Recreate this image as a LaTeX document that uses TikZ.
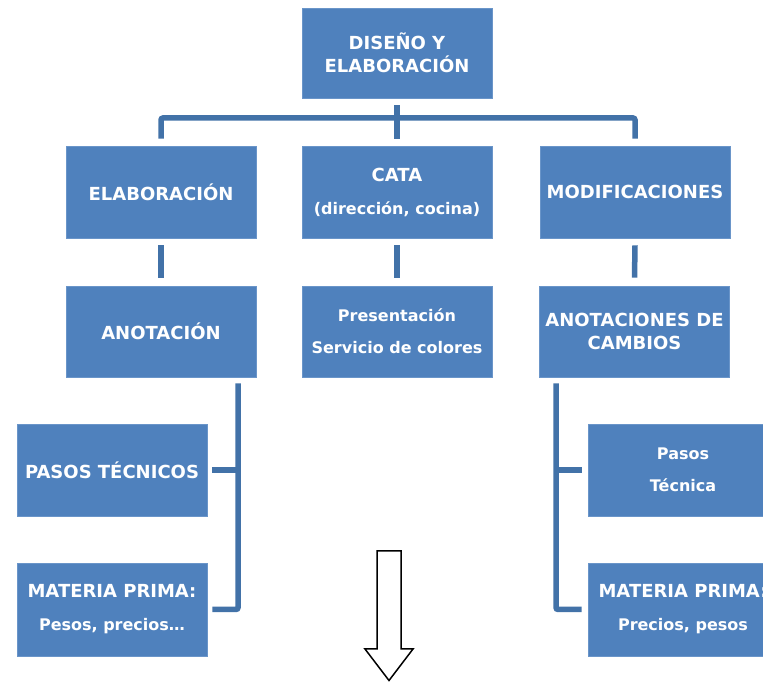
\documentclass[tikz,border=0pt]{standalone}
\usepackage{fontspec}
\setmainfont{DejaVu Sans}
\definecolor{boxblue}{HTML}{4F81BD}
\definecolor{boxedge}{HTML}{6A95C9}
\definecolor{connblue}{HTML}{4272A8}
\newcommand{\capsz}{\fontsize{18}{23}\selectfont}
\newcommand{\lowsz}{\fontsize{16}{23}\selectfont}
\begin{document}
\begin{tikzpicture}[x=1pt,y=1pt,
  box/.style={fill=boxblue, draw=boxedge, line width=0.8pt, minimum width=190pt,
    minimum height=92pt, inner sep=0pt, text=white, align=center,
    font=\capsz\bfseries},
  conn/.style={draw=connblue, line width=5.5pt, rounded corners=2pt}]
\useasboundingbox (0,0) rectangle (763,682);
\clip (0,0) rectangle (763,682);
% nodes
\node[box, minimum height=90pt] (T) at (397,629) {DISEÑO Y\\ELABORACIÓN};
\node[box] (E) at (161,490) {ELABORACIÓN};
\node[box] (C) at (397,490) {CATA\\[10pt]\lowsz(dirección, cocina)};
\node[box] (M) at (635,490) {MODIFICACIONES};
\node[box, minimum height=91pt] (A) at (161,350.5) {ANOTACIÓN};
\node[box, minimum height=91pt, font=\lowsz\bfseries] (P) at (397,350.5) {Presentación\\[9pt]Servicio de colores};
\node[box, minimum height=91pt] (AC) at (634.5,350.5) {ANOTACIONES DE\\CAMBIOS};
\node[box] (L1) at (112,212) {PASOS TÉCNICOS};
\node[box, minimum height=93pt] (L2) at (112,72.5) {MATERIA PRIMA:\\[10pt]\lowsz Pesos, precios…};
\node[box, font=\lowsz\bfseries] (R1) at (683,212) {Pasos\\[9.5pt]Técnica};
\node[box, minimum height=93pt] (R2) at (683,72.5) {MATERIA PRIMA:\\[10pt]\lowsz Precios, pesos};
% connectors
\coordinate (hb) at (397,557);
\draw[conn] ([yshift=-7pt]T.south) -- ([yshift=7pt]C.north);
\draw[conn] ([yshift=7pt]E.north) -- ([yshift=7pt]E.north |- hb) -- ([yshift=7pt]M.north |- hb) -- ([yshift=7pt]M.north);
\draw[conn] ([yshift=-7pt]E.south) -- ([yshift=8pt]A.north);
\draw[conn] ([yshift=-7pt]C.south) -- ([yshift=8pt]P.north);
\draw[conn] ([yshift=-7pt]M.south) -- ([yshift=8pt]AC.north);
\coordinate (lb) at ([xshift=77pt,yshift=-6pt]A.south);
\draw[conn] (lb) |- ([xshift=5pt]L2.east);
\draw[conn] ([xshift=5pt]L1.east) -- (L1.east -| lb);
\coordinate (rb) at ([xshift=-78.5pt,yshift=-6pt]AC.south);
\draw[conn] (rb) |- ([xshift=-6pt]R2.west);
\draw[conn] ([xshift=-6pt]R1.west) -- (R1.west -| rb);
% big down arrow
\draw[line width=1.5pt, fill=white, line join=miter]
  (377,131) -- (401,131) -- (401,33) -- (413,33) -- (389,1.5) -- (365,33) -- (377,33) -- cycle;
\end{tikzpicture}
\end{document}
